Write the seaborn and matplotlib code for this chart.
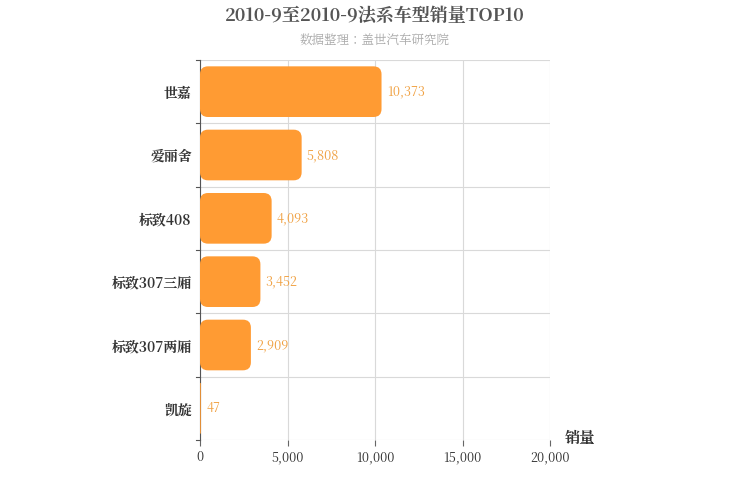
import matplotlib
matplotlib.use("Agg")
import matplotlib.pyplot as plt
import seaborn as sns
import pandas as pd
from matplotlib.patches import FancyBboxPatch
from matplotlib import font_manager

# find whatever CJK family the system registers
cjk = [f.name for f in font_manager.fontManager.ttflist if "CJK" in f.name]
cjk_name = "Noto Sans CJK SC" if "Noto Sans CJK SC" in cjk else (cjk[0] if cjk else "DejaVu Sans")
plt.rcParams["font.family"] = "sans-serif"
plt.rcParams["font.sans-serif"] = [cjk_name, "DejaVu Sans"]

# chart data
models = ["世嘉", "爱丽舍", "标致408", "标致307三厢", "标致307两厢", "凯旋"]
sales = [10373, 5808, 4093, 3452, 2909, 47]
x_ticks = [0, 5000, 10000, 15000, 20000]

df = pd.DataFrame({"model": models, "sales": sales})
bar_color = "#ff9b33"

fig = plt.figure(figsize=(7.5, 5), dpi=100)
ax = fig.add_axes([200 / 750, 60 / 500, 350 / 750, 380 / 500])
sns.barplot(data=df, x="sales", y="model", color=bar_color, width=0.8, ax=ax, saturation=1)

ax.set_xlim(0, 20000)
ax.set_ylim(len(models) - 0.5, -0.5)

# swap plain bars for rounded ones
x_per_px = 20000 / 350
y_per_px = len(models) / 380
for p in list(ax.patches):
    x0, y0 = p.get_x(), p.get_y()
    w, h = p.get_width(), p.get_height()
    p.remove()
    r = min(8 * x_per_px, w / 2) if w > 0 else 0
    fb = FancyBboxPatch((x0, y0), w, h,
                        boxstyle=f"round,pad=0,rounding_size={r}",
                        mutation_aspect=y_per_px / x_per_px,
                        fc=bar_color, ec="none", zorder=3)
    ax.add_patch(fb)

for i, v in enumerate(sales):
    ax.text(v + 300, i, f"{v:,}", va="center", ha="left", fontsize=9, color="#f0a040", zorder=4)

ax.set_xticks(x_ticks)
ax.set_xticklabels([f"{t:,}" for t in x_ticks], fontsize=9, color="#333333")
ax.set_yticks(range(len(models)))
ax.set_yticklabels(models, fontsize=10, fontweight="bold", color="#333333")
ax.tick_params(axis="y", length=0, pad=6)
ax.tick_params(axis="x", length=4, color="#666666")
ax.set_xlabel("")
ax.set_ylabel("")

ax.grid(axis="x", color="#d9d9d9", lw=0.8, zorder=0)
for k in range(len(models) + 1):
    ax.axhline(k - 0.5, color="#d9d9d9", lw=0.8, zorder=0)
    ax.plot([-250, 0], [k - 0.5, k - 0.5], color="#555555", lw=0.8, clip_on=False)
for s in ["top", "right", "bottom"]:
    ax.spines[s].set_visible(False)
ax.spines["left"].set_color("#555555")
ax.set_axisbelow(True)

fig.text(375 / 750, 1 - 16 / 500, "2010-9至2010-9法系车型销量TOP10", ha="center", va="center",
         fontsize=13, fontweight="bold", color="#555555")
fig.text(375 / 750, 1 - 41 / 500, "数据整理：盖世汽车研究院", ha="center", va="center",
         fontsize=9, color="#aaaaaa")
fig.text(580 / 750, 1 - 438 / 500, "销量", ha="center", va="center",
         fontsize=11, fontweight="bold", color="#333333")

fig.savefig("out.png", dpi=100)
